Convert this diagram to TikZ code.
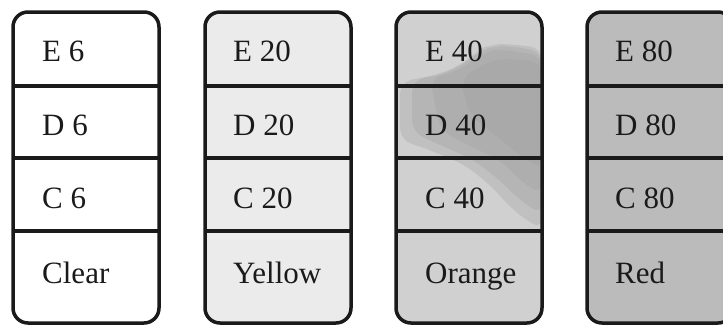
\documentclass[tikz,border=0pt]{standalone}
\usepackage{fontspec}
\setmainfont{Liberation Serif}
\definecolor{fillA}{HTML}{FFFFFF}
\definecolor{fillB}{HTML}{EBEBEB}
\definecolor{fillC}{HTML}{D0D0D0}
\definecolor{blotC}{HTML}{9E9E9E}
\definecolor{fillD}{HTML}{BBBBBB}
\definecolor{inkc}{HTML}{1A1A1A}
\begin{document}
\begin{tikzpicture}[x=1pt,y=-1pt,
  vial/.style={draw=inkc, line width=3.5pt, rounded corners=15pt},
  divider/.style={draw=inkc, line width=3.5pt},
  blot/.style={fill=blotC, fill opacity=0.3},
  lbl/.style={anchor=base west, inner sep=0pt, text=inkc, font=\fontsize{31}{31}\selectfont}]
\useasboundingbox (0,0) rectangle (723,327);
% box 1
\fill[fillA, rounded corners=15pt] (13,12) rectangle (159,323);
% box 2
\fill[fillB, rounded corners=15pt] (205,12) rectangle (351,323);
% box 3
\fill[fillC, rounded corners=15pt] (396,12) rectangle (542,323);
\begin{scope}
  \clip (396,12) rectangle (542,323);
  \fill[blot, rounded corners=12pt] (400,82) -- (440,74) -- (466,62) -- (478,50) -- (492,44) -- (510,44) -- (542,48)
     -- (542,230) -- (515,212) -- (490,185) -- (465,165) -- (430,150) -- (400,140) -- cycle;
  \fill[blot, rounded corners=12pt] (412,80) -- (445,74) -- (470,60) -- (482,50) -- (496,46) -- (512,46) -- (542,52)
     -- (542,215) -- (520,200) -- (495,176) -- (470,158) -- (440,145) -- (412,132) -- cycle;
  \fill[blot, rounded corners=12pt] (430,78) -- (455,72) -- (474,60) -- (486,52) -- (500,49) -- (542,56)
     -- (542,195) -- (522,182) -- (500,160) -- (470,146) -- (440,130) -- cycle;
  \fill[blot, rounded corners=12pt] (460,80) -- (480,66) -- (500,58) -- (542,62)
     -- (542,170) -- (520,155) -- (495,135) -- (470,115) -- cycle;
\end{scope}
% box 4
\fill[fillD, rounded corners=15pt] (587,12) rectangle (733,323);
% outlines and dividers
\foreach \L in {13,205,396,587}{
  \draw[vial] (\L,12) rectangle (\L+146,323);
  \foreach \Y in {86,158,231}{
    \draw[divider] (\L,\Y) -- (\L+146,\Y);
  }
}
% labels
\node[lbl] (e6) at (42,61) {E 6};
\node[lbl] (d6) at (42,135) {D 6};
\node[lbl] (c6) at (42,208) {C 6};
\node[lbl] (clear) at (42,283) {Clear};
\node[lbl] (e20) at (233,61) {E 20};
\node[lbl] (d20) at (233,135) {D 20};
\node[lbl] (c20) at (233,208) {C 20};
\node[lbl] (yellow) at (233,283) {Yellow};
\node[lbl] (e40) at (425,61) {E 40};
\node[lbl] (d40) at (425,135) {D 40};
\node[lbl] (c40) at (425,208) {C 40};
\node[lbl] (orange) at (425,283) {Orange};
\node[lbl] (e80) at (615,61) {E 80};
\node[lbl] (d80) at (615,135) {D 80};
\node[lbl] (c80) at (615,208) {C 80};
\node[lbl] (red) at (615,283) {Red};
\end{tikzpicture}
\end{document}
